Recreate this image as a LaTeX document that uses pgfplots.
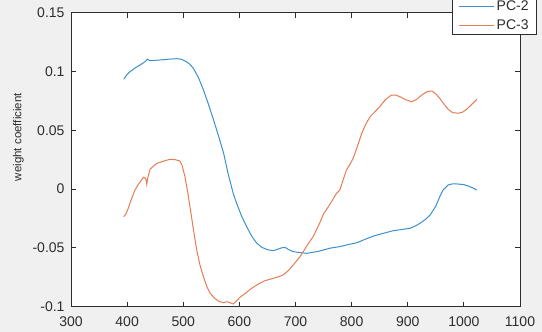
\documentclass[border=0pt]{standalone}
\usepackage{pgfplots}
\pgfplotsset{compat=1.18}
\usepackage{fontspec}
\setmainfont{Liberation Sans}
\definecolor{pcblue}{RGB}{60,145,205}
\definecolor{pcorange}{RGB}{230,125,85}
\definecolor{axgray}{RGB}{45,45,45}
\definecolor{figbg}{RGB}{240,240,240}
\begin{document}
\begin{tikzpicture}
\fill[figbg] (-71pt,-25.3pt) rectangle (471pt,306.7pt);
\begin{axis}[
 scale only axis, width=449pt, height=294pt,
 at={(0pt,0pt)}, anchor=south west,
 xmin=300, xmax=1100, ymin=-0.1, ymax=0.15,
 xtick={300,400,500,600,700,800,900,1000,1100},
 xticklabels={300,400,500,600,700,800,900,1000,1100},
 ytick={-0.1,-0.05,0,0.05,0.1,0.15},
 yticklabels={-0.1,-0.05,0,0.05,0.1,0.15},
 tick align=inside, major tick length=5pt,
 axis line style={axgray, line width=0.8pt},
 tick style={axgray, line width=0.8pt},
 ticklabel style={font=\fontsize{14}{16}\selectfont, text=axgray},
 xticklabel style={yshift=-6pt},
 yticklabel style={xshift=-3pt},
 axis background/.style={fill=white},
 ylabel={weight coefficient},
 ylabel style={at={(axis description cs:-0.117,0.577)}, anchor=center, font=\fontsize{11.5}{13}\selectfont, text=axgray},
 legend style={at={(axis description cs:1.0379,0.926)}, anchor=south east,
   draw=axgray, line width=0.8pt, fill=white, font=\fontsize{14}{16}\selectfont, text=axgray,
   inner xsep=6pt, inner ysep=1.2pt, row sep=3.2pt},
 legend cell align=left,
 legend image code/.code={\draw[#1, line width=1pt] (0cm,0cm) -- (35pt,0cm);},
]
\addplot[pcblue, line width=1pt] coordinates {
(394,0.0934)(400,0.0975)(405,0.0998)(414,0.103)(423,0.1055)(432,0.1083)(436,0.1104)(441,0.1092)
(450,0.1095)(459,0.1098)(475,0.1105)(488,0.1109)(497,0.1104)(506,0.1083)(512,0.106)(518,0.1027)
(527,0.095)(536,0.0843)(545,0.072)(554,0.0588)(563,0.045)(572,0.0304)(580,0.013)(589,-0.0036)
(595,-0.012)(604,-0.023)(613,-0.032)(622,-0.040)(631,-0.046)(640,-0.0495)(650,-0.0515)(660,-0.0524)
(668,-0.0512)(675,-0.0500)(681,-0.0495)(688,-0.0515)(696,-0.0532)(708,-0.0540)(720,-0.0546)
(740,-0.0530)(761,-0.0503)(780,-0.0488)(791,-0.0475)(810,-0.0455)(825,-0.0425)(839,-0.0399)
(855,-0.0378)(874,-0.0354)(890,-0.0343)(904,-0.0333)(915,-0.031)(922,-0.029)(931,-0.026)
(940,-0.022)(950,-0.0145)(957,-0.0065)(963,-0.0008)(972,0.0035)(980,0.0045)(990,0.0043)
(1000,0.0038)(1008,0.0026)(1016,0.001)(1023,-0.0008)
};
\addlegendentry{\rule{0pt}{10pt}\rule[-2pt]{0pt}{2pt}PC-2}
\addplot[pcorange, line width=1pt] coordinates {
(394,-0.0235)(398,-0.021)(402,-0.0163)(408,-0.008)(414,-0.0008)(420,0.004)(429,0.0100)(432,0.0095)
(434,0.0075)(435,0.0041)(437,0.010)(441,0.0170)(447,0.0195)(453,0.0219)(465,0.0238)(476,0.0253)
(486,0.0250)(494,0.0239)(498,0.020)(503,0.0106)(508,-0.003)(512,-0.015)(518,-0.034)(524,-0.0518)
(530,-0.065)(536,-0.0745)(542,-0.083)(548,-0.0886)(556,-0.093)(565,-0.0958)(572,-0.0965)(578,-0.0958)
(583,-0.0965)(589,-0.0977)(595,-0.095)(601,-0.092)(607,-0.090)(620,-0.085)(631,-0.0815)(645,-0.078)
(660,-0.0759)(670,-0.0745)(678,-0.073)(688,-0.069)(696,-0.0645)(702,-0.061)(708,-0.0575)(714,-0.053)
(722,-0.047)(732,-0.040)(743,-0.029)(750,-0.021)(760,-0.014)(773,-0.0036)(779,-0.0008)(785,0.008)
(791,0.0165)(797,0.021)(803,0.0265)(810,0.036)(818,0.0474)(825,0.055)(833,0.0616)(842,0.066)
(850,0.070)(860,0.076)(871,0.080)(878,0.0800)(886,0.0786)(896,0.0760)(907,0.0743)(915,0.0760)
(925,0.080)(935,0.0830)(943,0.0834)(950,0.081)(957,0.0772)(965,0.072)(972,0.0679)(980,0.065)
(990,0.0645)(998,0.0655)(1005,0.0679)(1014,0.072)(1023,0.0764)
};
\addlegendentry{\rule{0pt}{10pt}\rule[-2pt]{0pt}{2pt}PC-3}
\end{axis}
\pgfresetboundingbox
\useasboundingbox (-71pt,-25.3pt) rectangle (471pt,306.7pt);
\end{tikzpicture}
\end{document}
